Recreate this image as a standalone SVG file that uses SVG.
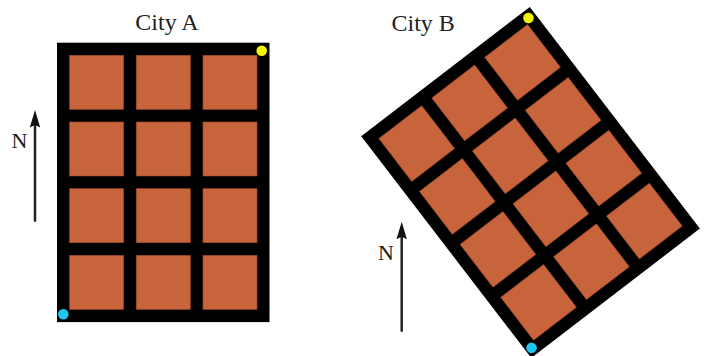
<svg xmlns="http://www.w3.org/2000/svg" width="704" height="356" viewBox="0 0 704 356">
<style>
.label{font-family:"Liberation Serif","Times New Roman",serif;fill:#222;}
.title{font-size:24px;}
.n{font-size:22px;}
.road{fill:#000;}
.block{fill:#C8643C;stroke:#9E4A2A;stroke-width:0.6;}
.ne{fill:#F4F400;}
.sw{fill:#1FC6EE;}
.arrow{stroke:#222;stroke-width:2.5;fill:none;}
</style>
<defs>
<marker id="head" markerUnits="userSpaceOnUse" markerWidth="18" markerHeight="12" viewBox="0 0 18 12" refX="7" refY="6" orient="auto">
<path d="M17.5 6 L0 0.8 L2.5 6 L0 11.2 Z" fill="#111"/>
</marker>
<g id="grid">
<rect class="road" x="57" y="42.7" width="212.5" height="279.4"/>
<rect class="block" x="69.6" y="55.3" width="54" height="54"/>
<rect class="block" x="136.3" y="55.3" width="54" height="54"/>
<rect class="block" x="203" y="55.3" width="54" height="54"/>
<rect class="block" x="69.6" y="122" width="54" height="54"/>
<rect class="block" x="136.3" y="122" width="54" height="54"/>
<rect class="block" x="203" y="122" width="54" height="54"/>
<rect class="block" x="69.6" y="188.7" width="54" height="54"/>
<rect class="block" x="136.3" y="188.7" width="54" height="54"/>
<rect class="block" x="203" y="188.7" width="54" height="54"/>
<rect class="block" x="69.6" y="255.4" width="54" height="54"/>
<rect class="block" x="136.3" y="255.4" width="54" height="54"/>
<rect class="block" x="203" y="255.4" width="54" height="54"/>
<circle class="ne" cx="261.7" cy="50.7" r="5.3"/>
<circle class="sw" cx="63.3" cy="314.3" r="5.3"/>
</g>
</defs>
<g id="cityA">
<use href="#grid"/>
<text class="label title" x="167" y="30" text-anchor="middle">City A</text>
</g>
<g id="cityB">
<use href="#grid" transform="translate(367.3,0) rotate(-37.5 163.25 182.4)"/>
<text class="label title" x="391.5" y="31" text-anchor="start">City B</text>
</g>
<g id="compassA">
<text class="label n" x="11.5" y="148">N</text>
</g>
<g id="compassB">
<text class="label n" x="378" y="260">N</text>
</g>
<g id="connectors">
<line class="arrow" x1="35" y1="221.7" x2="35" y2="120.5" marker-end="url(#head)"/>
<line class="arrow" x1="401.7" y1="331.7" x2="401.7" y2="232.2" marker-end="url(#head)"/>
</g>
</svg>
